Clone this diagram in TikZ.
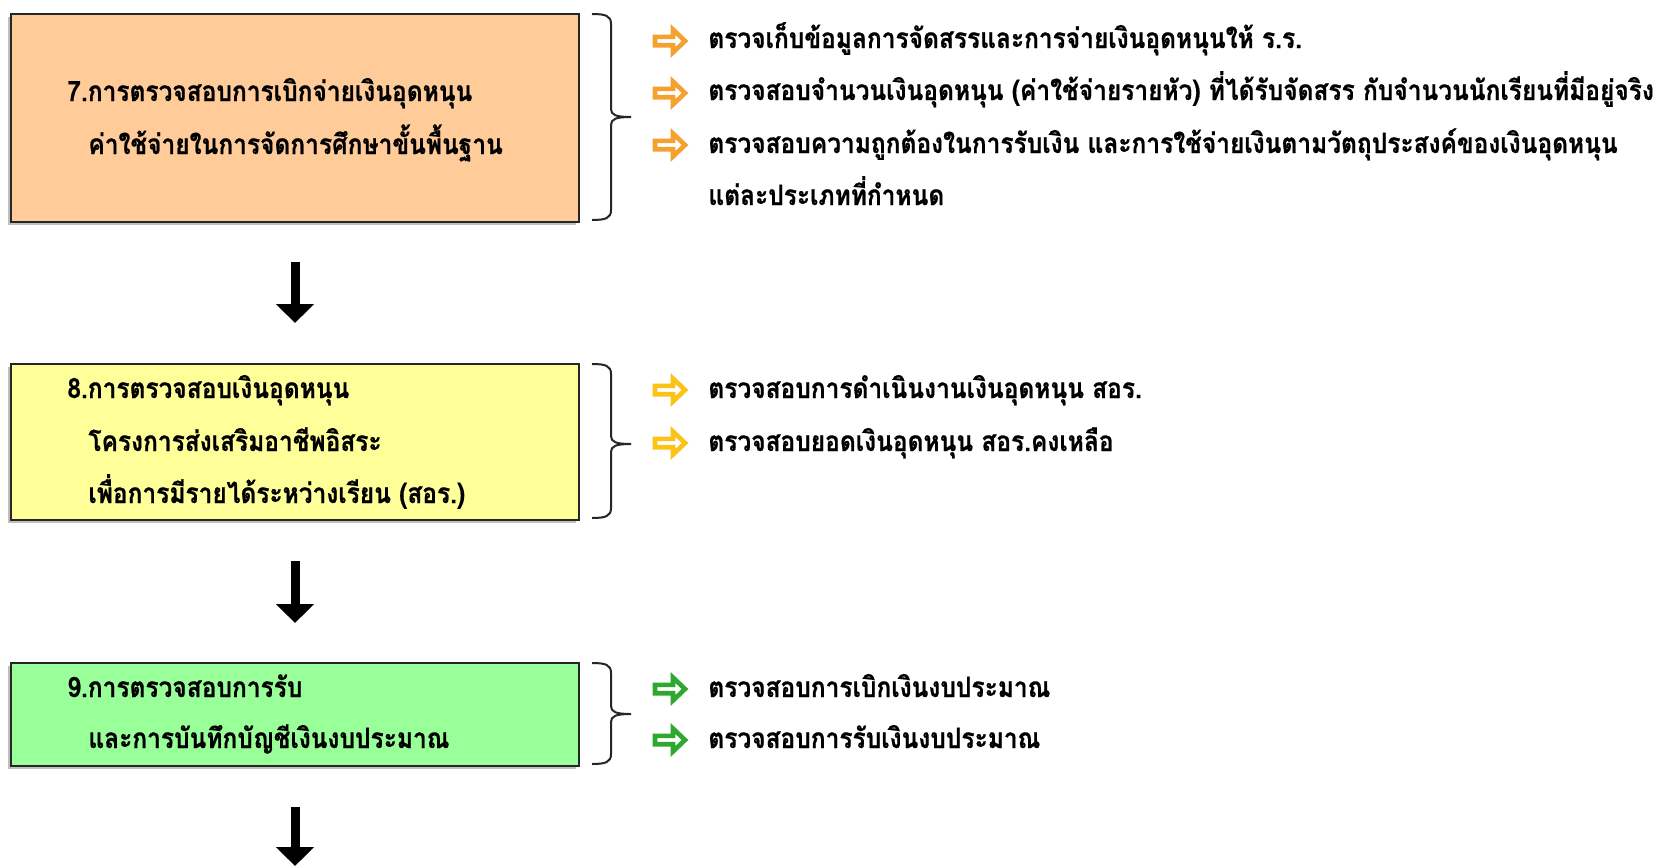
\documentclass[tikz,border=0pt]{standalone}
\usepackage{fontspec}
\newfontfamily\thai[Script=Thai, FakeStretch=0.875, BoldFeatures={FakeBold=0.6}]{Loma}
\usetikzlibrary{arrows.meta,shadows}
\definecolor{peach}{HTML}{FFCC99}
\definecolor{lyellow}{HTML}{FFFF99}
\definecolor{lgreen}{HTML}{99FF99}
\definecolor{aorange}{HTML}{F5A130}
\definecolor{ayellow}{HTML}{FCC317}
\definecolor{agreen}{HTML}{2EA82E}
\newcommand\mybrace[4]{% name, top, bottom, tip
  \draw[bracestyle] (592,#2) .. controls (606,#2) and (611,#2+2) .. (611,#2+10)
    -- (611,#4-8) .. controls (611,#4-2) and (616,#4) .. (631,#4)
    .. controls (616,#4) and (611,#4+2) .. (611,#4+8)
    -- (611,#3-10) .. controls (611,#3-2) and (606,#3) .. (592,#3);
  \coordinate (#1) at (631,#4);}
\begin{document}
\begin{tikzpicture}[x=0.5pt,y=-0.5pt,
  box/.style={draw=black!85, line width=1pt, rectangle, inner sep=0pt,
    minimum width=284pt, drop shadow={shadow xshift=-1.4pt, shadow yshift=-1.4pt, opacity=0.5}},
  txt/.style={anchor=base west, inner sep=0pt, font=\thai\bfseries\fontsize{14}{16}\selectfont},
  bracestyle/.style={draw=black!85, line width=1pt},
  darr/.style={line width=4.5pt, -{Triangle[width=18.5pt,length=9.5pt]}},
  pics/barrow/.style={code={\draw[line width=2.3pt, draw=#1, fill=white, line join=miter]
     (0,-4.2) -- (18,-4.2) -- (18,-11.5) -- (30,0) -- (18,11.5) -- (18,4.2) -- (0,4.2) -- cycle;}}
]
\useasboundingbox (0,0) rectangle (1663,867);
\fill[white] (0,0) rectangle (1663,867);

% boxes
\node[box, fill=peach, minimum height=104pt] (b7) at (295,118) {};
\node[box, fill=lyellow, minimum height=78pt] (b8) at (295,442) {};
\node[box, fill=lgreen, minimum height=51.5pt] (b9) at (295,714.5) {};

% box texts
\node[txt] (t7a) at (67,101) {7.การตรวจสอบการเบิกจ่ายเงินอุดหนุน};
\node[txt] (t7b) at (88,154) {ค่าใช้จ่ายในการจัดการศึกษาขั้นพื้นฐาน};
\node[txt] (t8a) at (67,398) {8.การตรวจสอบเงินอุดหนุน};
\node[txt] (t8b) at (88,451) {โครงการส่งเสริมอาชีพอิสระ};
\node[txt] (t8c) at (88,503) {เพื่อการมีรายได้ระหว่างเรียน (สอร.)};
\node[txt] (t9a) at (67,697) {9.การตรวจสอบการรับ};
\node[txt] (t9b) at (88,748) {และการบันทึกบัญชีเงินงบประมาณ};

% braces
\mybrace{br7}{14}{220}{117}
\mybrace{br8}{364}{518}{444}
\mybrace{br9}{663}{764}{714}

% bullets
\pic at (655,41) {barrow=aorange};
\pic at (655,93) {barrow=aorange};
\pic at (655,145) {barrow=aorange};
\node[txt] (s71) at (708,48) {ตรวจเก็บข้อมูลการจัดสรรและการจ่ายเงินอุดหนุนให้ ร.ร.};
\node[txt] (s72) at (708,100) {ตรวจสอบจำนวนเงินอุดหนุน (ค่าใช้จ่ายรายหัว) ที่ได้รับจัดสรร กับจำนวนนักเรียนที่มีอยู่จริง};
\node[txt] (s73) at (708,153) {ตรวจสอบความถูกต้องในการรับเงิน และการใช้จ่ายเงินตามวัตถุประสงค์ของเงินอุดหนุน};
\node[txt] (s74) at (708,205) {แต่ละประเภทที่กำหนด};

\pic at (655,390) {barrow=ayellow};
\pic at (655,443) {barrow=ayellow};
\node[txt] (s81) at (708,398) {ตรวจสอบการดำเนินงานเงินอุดหนุน สอร.};
\node[txt] (s82) at (708,451) {ตรวจสอบยอดเงินอุดหนุน สอร.คงเหลือ};

\pic at (655,689) {barrow=agreen};
\pic at (655,740) {barrow=agreen};
\node[txt] (s91) at (708,697) {ตรวจสอบการเบิกเงินงบประมาณ};
\node[txt] (s92) at (708,748) {ตรวจสอบการรับเงินงบประมาณ};

% down arrows
\coordinate (next) at (295,866);
\draw[darr, shorten <=19.5pt, shorten >=20pt] (b7.south) -- (b8.north);
\draw[darr, shorten <=20pt, shorten >=19.5pt] (b8.south) -- (b9.north);
\draw[darr, shorten <=20pt] (b9.south) -- (next);
\end{tikzpicture}
\end{document}
